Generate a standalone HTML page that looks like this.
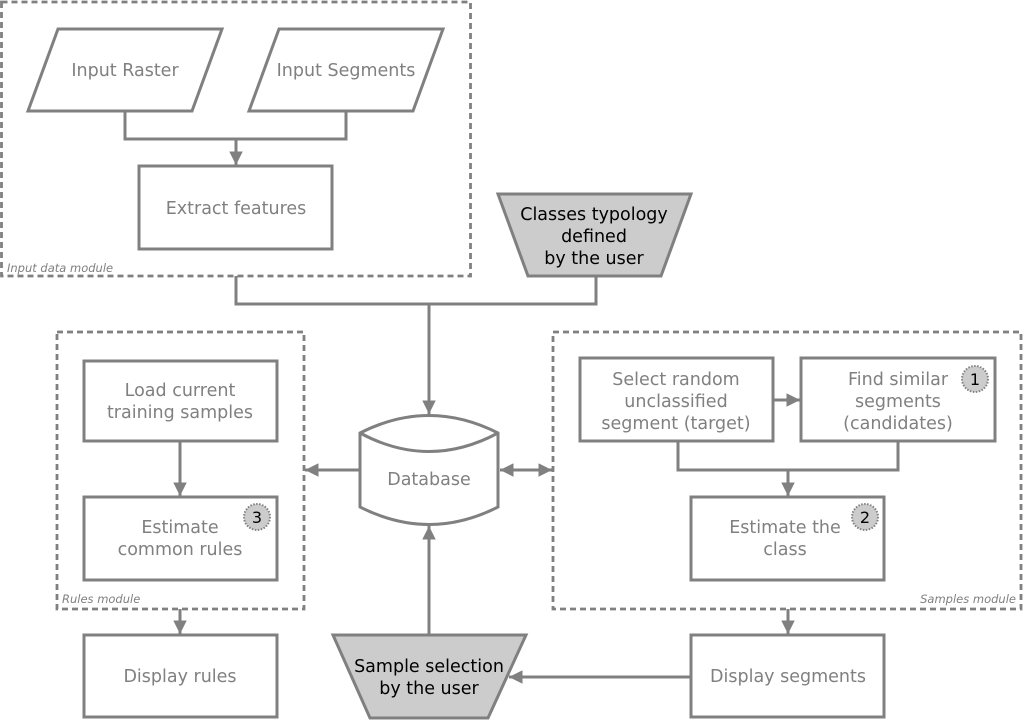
<!DOCTYPE html>
<html><head><meta charset="utf-8"><style>html,body{margin:0;padding:0;background:#fff}svg{display:block}</style></head><body>
<svg width="1024" height="720" xmlns="http://www.w3.org/2000/svg" font-family="DejaVu Sans, Liberation Sans, sans-serif">
<defs><marker id="a" viewBox="0 0 10 10" refX="10" refY="5" markerWidth="4.5" markerHeight="4.5" orient="auto-start-reverse"><path d="M0,0L10,5L0,10z" fill="#808080"/></marker></defs>
<g fill="none" stroke="#808080" stroke-width="3">
<g stroke-dasharray="6,4" stroke-width="2.8">
<rect x="1.5" y="2" width="469" height="274"/>
<rect x="57" y="332" width="247" height="277"/>
<rect x="553" y="332" width="468" height="277"/>
</g>
<polygon points="58,29 222,29 192,111 28,111" fill="#fff"/>
<polygon points="279,29 443,29 413,111 249,111" fill="#fff"/>
<rect x="139" y="166" width="193" height="83" fill="#fff"/>
<polygon points="498,194 691,194 661,276 528,276" fill="#ccc"/>
<path d="M125,111V139H346V111M236,139V165" marker-end="url(#a)"/>
<path d="M236,276V304H596V276M429,304V414" marker-end="url(#a)"/>
<path d="M360,433Q429,398 498,433V507Q429,542 360,507Z" fill="#fff"/>
<path d="M360,433Q429,470 498,433"/>
<rect x="84" y="361" width="193" height="80" fill="#fff"/>
<rect x="84" y="497" width="193" height="83" fill="#fff"/>
<path d="M180,441V496" marker-end="url(#a)"/>
<path d="M360,470H305" marker-end="url(#a)"/>
<path d="M500,470H552" marker-start="url(#a)" marker-end="url(#a)"/>
<rect x="580" y="358" width="193" height="83" fill="#fff"/>
<rect x="801" y="358" width="194" height="83" fill="#fff"/>
<path d="M773,400H800" marker-end="url(#a)"/>
<path d="M678,441V470H898V441M788,470V496" marker-end="url(#a)"/>
<rect x="691" y="497" width="193" height="83" fill="#fff"/>
<path d="M180,609V634" marker-end="url(#a)"/>
<path d="M788,609V634" marker-end="url(#a)"/>
<rect x="84" y="635" width="193" height="82" fill="#fff"/>
<rect x="691" y="635" width="193" height="82" fill="#fff"/>
<polygon points="333,635 526,635 488,718 370,718" fill="#ccc"/>
<path d="M691,677H509" marker-end="url(#a)"/>
<path d="M429,635V526" marker-end="url(#a)"/>
</g>
<g fill="#ccc" stroke="#808080" stroke-width="2" stroke-dasharray="1.5,1.5">
<circle cx="975" cy="379" r="13"/><circle cx="865" cy="517" r="13"/><circle cx="257" cy="517" r="13"/>
</g>
<g font-size="17.5" fill="#808080" text-anchor="middle">
<text x="125" y="76">Input Raster</text>
<text x="346" y="76">Input Segments</text>
<text x="236" y="214">Extract features</text>
<text x="429" y="485">Database</text>
<text x="180" y="396">Load current</text><text x="180" y="418">training samples</text>
<text x="180" y="533">Estimate</text><text x="180" y="555">common rules</text>
<text x="676" y="385">Select random</text><text x="676" y="407">unclassified</text><text x="676" y="429">segment (target)</text>
<text x="898" y="385">Find similar</text><text x="898" y="407">segments</text><text x="898" y="429">(candidates)</text>
<text x="785" y="533">Estimate the</text><text x="785" y="555">class</text>
<text x="180" y="682">Display rules</text>
<text x="788" y="682">Display segments</text>
</g>
<g font-size="17.5" fill="#000" text-anchor="middle">
<text x="594" y="220">Classes typology</text><text x="594" y="242">defined</text><text x="594" y="264">by the user</text>
<text x="429" y="672">Sample selection</text><text x="429" y="694">by the user</text>
<text x="975" y="385" font-size="16">1</text><text x="865" y="523" font-size="16">2</text><text x="257" y="523" font-size="16">3</text>
</g>
<g font-size="11.5" font-style="italic" fill="#808080">
<text x="7" y="272">Input data module</text>
<text x="62" y="603">Rules module</text>
<text x="1016" y="603" text-anchor="end">Samples module</text>
</g>
</svg>
</body></html>
